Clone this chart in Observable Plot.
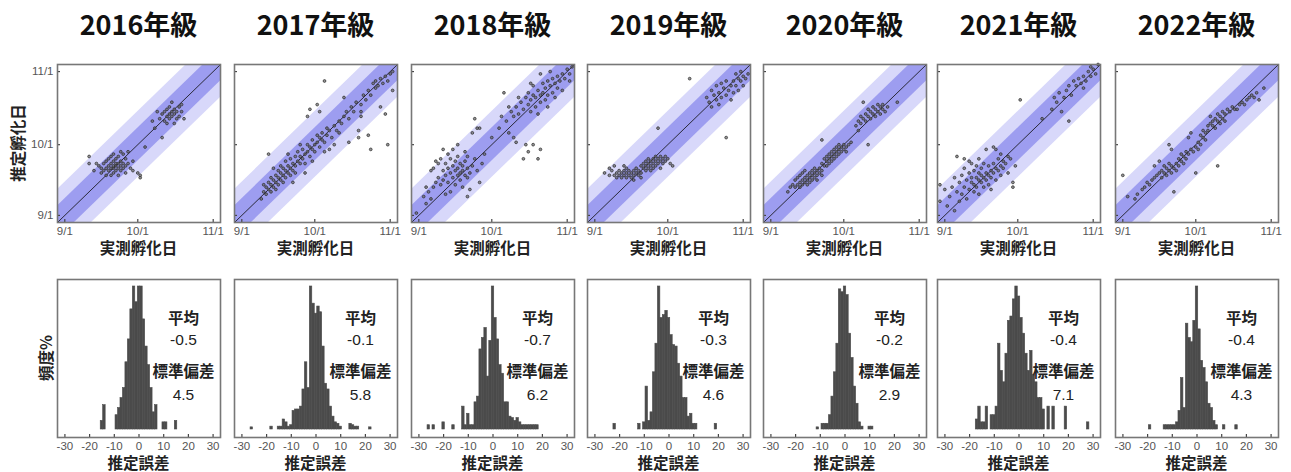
<!DOCTYPE html>
<html><head><meta charset="utf-8">
<script src="https://cdn.jsdelivr.net/npm/d3@7"></script>
<script src="https://cdn.jsdelivr.net/npm/@observablehq/plot@0.6"></script>
<style>
body{margin:0;background:#fff;}
#root{position:relative;width:1291px;height:472px;background:#fff;overflow:hidden;}
.abs{position:absolute;}
.title{font-family:"Noto Sans CJK JP","Liberation Sans",sans-serif;font-weight:bold;font-size:27px;color:#111;text-align:center;line-height:32px;}
.xl{font-family:"Noto Sans CJK JP",sans-serif;font-weight:bold;font-size:15.5px;color:#222;text-align:center;line-height:18px;}
.yl{font-family:"Noto Sans CJK JP",sans-serif;font-weight:bold;font-size:15.5px;color:#222;text-align:center;line-height:18px;transform:rotate(-90deg);transform-origin:center;}
</style>
</head><body>
<div id="root"></div>
<script>
// ---------- data ----------
const years = ["2016","2017","2018","2019","2020","2021","2022"];
const means = ["-0.5","-0.1","-0.7","-0.3","-0.2","-0.4","-0.4"];
const sds = ["4.5","5.8","6.2","4.6","2.9","7.1","4.3"];
const dateTicks = [0, 30, 61];            // days since 9/1
const dateTickLabels = ["9/1", "10/1", "11/1"];
const errTicks = [-30, -20, -10, 0, 10, 20, 30];
const innerBand = 7, outerBand = 14;       // days

// scatter points [measured day, estimated day] (days since 9/1)
const pts2016 = [[10,25],[10,22],[13,22],[14,21],[15,20],[15,18],[16,19],[16,22],[17,20],[17,23],[18,19],[18,21],[18,24],[19,20],[19,22],[19,25],[20,18],[20,20],[20,21],[20,23],[20,26],[21,19],[21,21],[21,22],[21,24],[22,20],[22,22],[22,25],[23,19],[23,21],[23,23],[24,20],[24,22],[24,26],[25,21],[25,18],[26,22],[27,20],[28,19],[30,18],[31,17],[31,16],[17,17],[19,17],[22,17],[25,24],[26,27],[23,27],[12,19],[28,23],
[33,29],[37,37],[39,41],[40,33],[40,43],[41,40],[41,44],[42,42],[42,45],[43,41],[43,43],[43,46],[44,42],[44,44],[45,43],[45,45],[46,41],[46,44],[47,42],[47,46],[48,44],[49,41],[38,44],[44,48],[45,39],[42,39],[48,47],[36,40]];
const pts2017 = [[8,7],[9,10],[9,13],[10,12],[10,9],[11,14],[11,11],[12,13],[12,16],[12,10],[13,15],[13,12],[14,17],[14,14],[14,11],[15,16],[15,19],[15,13],[16,15],[16,18],[16,21],[17,14],[17,17],[17,20],[18,16],[18,19],[18,23],[19,18],[19,21],[20,17],[20,20],[20,24],[21,19],[21,22],[22,21],[22,25],[22,18],[23,23],[23,27],[24,22],[24,25],[25,24],[25,28],[26,26],[26,22],[27,27],[27,30],[28,25],[28,29],[29,28],[29,32],[30,30],[30,27],[31,31],[31,34],[32,29],[32,33],[33,32],[33,35],[34,31],[35,34],[35,37],[36,36],[37,33],[38,38],[39,36],[40,40],[41,39],[42,42],[43,44],[44,41],[45,46],[46,44],[47,48],[49,47],[50,51],[51,49],[52,53],[53,51],[54,56],[55,54],[55,57],[56,55],[57,58],[58,56],[59,59],[60,57],[61,60],[62,61],[13,20],[19,26],[11,26],[24,30],[34,57],[31,47],[28,45],[27,42],[32,44],[42,50],[49,42],[48,36],[48,33],[52,34],[49,44],[60,30],[53,28],[44,31],[57,46],[59,43],[62,53],[21,14],[26,18],[29,23],[38,30],[36,28],[40,35],[34,27]];
const pts2018 = [[-1,1],[2,8],[4,10],[3,5],[5,7],[6,12],[6,20],[7,23],[8,22],[5,19],[8,16],[9,13],[10,15],[10,19],[11,17],[11,22],[12,14],[12,20],[13,18],[13,24],[14,16],[14,21],[15,19],[15,23],[15,13],[16,17],[16,20],[16,25],[17,18],[17,15],[17,22],[18,19],[18,21],[18,12],[19,17],[19,23],[20,20],[20,16],[20,8],[21,11],[21,18],[22,21],[22,35],[23,41],[24,37],[25,37],[25,14],[24,19],[23,24],[26,22],[9,24],[12,26],[14,28],[16,30],[11,9],[7,14],[27,26],[19,27],[10,28],[3,12],[13,10],[20,25],
[30,33],[33,37],[35,52],[36,40],[37,35],[39,42],[39,33],[40,31],[43,24],[45,27],[50,28],[47,30],[49,24],[44,30],[38,44],[40,46],[41,43],[42,48],[43,45],[44,50],[45,47],[45,52],[46,49],[46,44],[47,51],[47,55],[48,50],[48,46],[49,53],[50,51],[50,48],[51,56],[51,52],[52,54],[52,49],[53,57],[53,51],[54,55],[55,58],[55,52],[56,56],[57,59],[57,54],[58,57],[59,60],[60,58],[61,62],[62,60],[63,63],[49,43],[53,46],[56,50],[59,53],[62,57],[41,50],[37,46],[34,42],[46,56],[50,60],[54,61]];
const pts2019 = [[4,18],[6,17],[7,19],[8,17],[9,18],[9,16],[10,19],[10,17],[11,18],[11,16],[12,19],[12,17],[13,18],[13,20],[13,16],[14,17],[14,19],[15,18],[15,16],[16,19],[16,17],[17,18],[17,20],[18,17],[18,19],[19,18],[19,21],[20,20],[20,22],[21,19],[21,21],[21,23],[22,20],[22,22],[22,24],[23,21],[23,23],[24,22],[24,20],[24,24],[25,23],[25,21],[25,25],[26,22],[26,24],[27,23],[27,25],[28,24],[28,22],[29,23],[29,25],[30,24],[31,22],[32,21],[26,37],[6,20],[8,21],[12,21],[16,15],[19,16],[23,19],[27,20],
[39,58],[46,50],[47,48],[48,53],[49,51],[50,55],[50,49],[51,52],[52,56],[52,50],[53,54],[54,57],[54,51],[55,53],[56,55],[56,49],[57,57],[57,52],[58,55],[59,58],[59,53],[60,57],[61,59],[61,55],[62,58],[63,60],[54,33],[48,46],[51,47],[58,60],[60,61]];
const pts2020 = [[9,13],[10,12],[10,15],[11,13],[11,16],[12,14],[12,12],[12,17],[13,15],[13,13],[13,18],[14,14],[14,16],[14,19],[15,15],[15,17],[15,13],[16,16],[16,18],[16,14],[17,17],[17,15],[17,19],[18,16],[18,18],[18,20],[19,17],[19,19],[19,15],[20,18],[20,20],[21,19],[21,17],[8,12],[7,10],
[21,22],[22,21],[22,24],[23,23],[23,25],[23,21],[24,24],[24,26],[24,22],[25,25],[25,27],[25,23],[26,26],[26,24],[26,28],[27,27],[27,25],[27,29],[28,26],[28,28],[28,30],[29,27],[29,29],[30,28],[30,30],[31,29],[31,27],[32,30],[21,32],[33,31],
[35,38],[36,40],[37,39],[37,42],[38,41],[38,48],[39,43],[39,40],[40,42],[40,45],[41,44],[41,41],[42,43],[42,46],[43,45],[43,42],[44,44],[44,47],[45,46],[45,43],[46,45],[46,47],[47,44],[48,46],[40,30],[52,48],[36,36]];
const pts2021 = [[-2,13],[-2,6],[0,11],[1,4],[2,8],[3,12],[4,2],[5,25],[5,10],[6,14],[6,6],[7,9],[7,17],[8,12],[8,20],[9,15],[9,7],[10,23],[10,11],[10,18],[11,14],[11,16],[12,10],[12,19],[12,13],[13,16],[13,21],[13,12],[14,15],[14,18],[14,9],[15,17],[15,14],[15,20],[16,16],[16,12],[16,22],[17,18],[17,15],[17,28],[18,17],[18,21],[18,13],[19,19],[19,16],[20,29],[20,18],[20,22],[21,28],[21,20],[21,15],[22,19],[22,24],[23,21],[23,17],[24,23],[24,20],[25,22],[26,18],[27,24],[28,12],[28,14],[29,21],[11,22],[8,24],[4,16],[19,11],[23,26],[26,25],[14,24],
[31,49],[40,41],[44,45],[45,50],[46,48],[47,52],[48,44],[49,50],[50,53],[51,40],[51,55],[52,51],[53,57],[54,55],[55,58],[56,56],[57,59],[58,57],[59,61],[60,59],[61,62],[62,60],[63,64],[60,63],[57,54]];
const pts2022 = [[0,17],[2,8],[5,7],[6,9],[8,11],[9,12],[10,14],[11,13],[12,15],[13,21],[13,16],[14,17],[15,23],[15,18],[16,16],[16,19],[17,18],[17,21],[18,20],[18,17],[19,19],[19,22],[19,30],[20,28],[20,18],[20,21],[21,20],[21,10],[22,22],[22,19],[23,24],[23,21],[24,23],[24,26],[25,22],[25,25],[26,27],[26,24],[27,33],[27,26],[28,35],[28,28],[29,27],[30,18],[30,29],[31,28],[31,31],[32,30],[32,34],[33,33],[33,36],[34,32],[34,35],[35,38],[35,36],[36,42],[36,39],[37,38],[37,40],[38,41],[38,37],[39,21],[39,40],[39,43],[40,42],[40,39],[41,44],[41,41],[42,43],[42,40],[43,45],[44,44],[45,46],[46,45],[47,45],[48,47],[49,48],[50,47],[51,49],[52,50],[53,51],[54,50],[56,49],[58,54],[55,52]];

// histograms [error (days), relative frequency]
const hist2016 = [[-15,6],[-14,17],[-9,10],[-8,15],[-7,22],[-6,29],[-5,47],[-4,63],[-3,84],[-2,100],[-1,89],[0,100],[1,100],[2,77],[3,58],[4,45],[5,29],[6,12],[7,17],[10,5],[11,5],[15,6]];
const hist2017 = [[-26,1.5],[-18,2],[-15,2],[-14,2],[-13,7],[-12,5],[-11,2],[-10,3],[-9,13],[-8,14],[-7,14],[-6,16],[-5,28],[-4,47],[-3,29],[-2,100],[-1,88],[0,81],[1,86],[2,82],[3,58],[4,32],[5,28],[6,16],[7,9],[8,5],[9,4],[10,2],[14,4],[15,3],[16,2],[17,2],[22,1.5]];
const hist2018 = [[-26,3],[-24,3],[-20,5],[-16,3],[-12,16],[-11,3],[-10,11],[-9,3],[-8,3],[-7,19],[-6,23],[-5,56],[-4,64],[-3,71],[-2,37],[-1,62],[0,100],[1,78],[2,63],[3,45],[4,39],[5,19],[6,19],[7,9],[8,8],[9,6],[10,8],[11,5],[12,3],[13,3],[14,3],[15,3],[16,3],[17,3],[18,3]];
const hist2019 = [[-22,4],[-12,4],[-10,5],[-9,30],[-8,6],[-7,12],[-6,40],[-5,60],[-4,100],[-3,78],[-2,80],[-1,83],[0,78],[1,66],[2,59],[3,58],[4,46],[5,37],[6,22],[7,22],[8,9],[9,11],[10,4],[11,4],[19,4]];
const hist2020 = [[-11,1.5],[-9,4],[-8,4],[-7,4],[-6,10],[-5,23],[-4,40],[-3,60],[-2,98],[-1,96],[0,100],[1,94],[2,67],[3,50],[4,30],[5,18],[6,5],[7,2],[10,2],[11,2]];
const hist2021 = [[-17,7],[-16,16],[-15,5],[-14,5],[-13,16],[-11,10],[-10,10],[-9,16],[-8,60],[-7,41],[-6,33],[-5,53],[-4,76],[-3,79],[-2,91],[-1,100],[0,93],[1,78],[2,67],[3,53],[4,41],[5,55],[6,38],[7,33],[8,22],[9,22],[10,14],[12,16],[14,16],[19,16],[28,5]];
const hist2022 = [[-19,3],[-13,3],[-12,3],[-11,3],[-10,3],[-9,3],[-8,5],[-7,13],[-6,36],[-5,15],[-4,74],[-3,64],[-2,61],[-1,76],[0,100],[1,70],[2,48],[3,43],[4,33],[5,18],[6,15],[7,6],[8,3],[11,3],[16,3]];

const allPts = [pts2016, pts2017, pts2018, pts2019, pts2020, pts2021, pts2022];
const allHist = [hist2016, hist2017, hist2018, hist2019, hist2020, hist2021, hist2022];

// ---------- layout ----------
const panelLefts = [57, 234, 411, 587, 763, 937, 1115];
const PW = 163, PH = 158, TOP1 = 64, TOP2 = 279;
const ML = 40, MR = 12, MT = 4, MB = 22;
const FONT = "'Liberation Sans', Arial, sans-serif";
const root = document.getElementById("root");

function place(el, left, top, w, h) {
  const d = document.createElement("div");
  d.className = "abs";
  d.style.left = left + "px"; d.style.top = top + "px";
  d.style.width = w + "px"; d.style.height = h + "px";
  d.appendChild(el);
  root.appendChild(d);
  return d;
}
function label(text, cls, left, top, w) {
  const d = document.createElement("div");
  d.className = "abs " + cls;
  d.style.left = left + "px"; d.style.top = top + "px"; d.style.width = w + "px";
  d.textContent = text;
  root.appendChild(d);
}

function scatter(pts, showY) {
  const dom = [-3, 64];
  const tx = 3 * (dom[1] - dom[0]) / PW, ty = 3 * (dom[1] - dom[0]) / PH;
  return Plot.plot({
    width: PW + ML + MR, height: PH + MT + MB,
    marginLeft: ML, marginRight: MR, marginTop: MT, marginBottom: MB,
    style: {background: "transparent", fontFamily: FONT, fontSize: "11.5px", color: "#555"},
    x: {domain: dom, axis: null}, y: {domain: dom, axis: null},
    marks: [
      Plot.areaY(dom, {x: d => d, y1: d => d - outerBand, y2: d => d + outerBand, fill: "#d8d8fa", clip: true}),
      Plot.areaY(dom, {x: d => d, y1: d => d - innerBand, y2: d => d + innerBand, fill: "#9d9df0", clip: true}),
      Plot.line(dom.map(d => [d, d]), {stroke: "#2a2a3a", strokeWidth: 1}),
      Plot.dot(pts, {x: d => d[0], y: d => d[1], r: 1.4, stroke: "#2a2a2a", strokeWidth: 0.7, fill: "#666", fillOpacity: 0.7}),
      Plot.ruleX(dateTicks, {x: d => d, y1: dom[0], y2: dom[0] + ty, stroke: "#444", strokeWidth: 1.2}),
      Plot.ruleY(dateTicks, {y: d => d, x1: dom[0], x2: dom[0] + tx, stroke: "#444", strokeWidth: 1.2}),
      Plot.axisX(dateTicks, {tickFormat: d => dateTickLabels[dateTicks.indexOf(d)], tickSize: 0, tickPadding: 4, label: null}),
      showY ? Plot.axisY(dateTicks, {tickFormat: d => dateTickLabels[dateTicks.indexOf(d)], tickSize: 0, tickPadding: 4, label: null}) : null,
      Plot.frame({stroke: "#777", strokeWidth: 1.6})
    ]
  });
}

function histo(bins, mean, sd) {
  const M = d3.max(bins, d => d[1]);
  const ydom = [-M * 8 / 143, M * (1 + 7 / 143)];
  const ty = 3 * (ydom[1] - ydom[0]) / PH;
  const statX = 18;
  const stat = (t, dy, bold) => Plot.text([t], {x: statX, frameAnchor: "top", dy, text: d => d,
    fontSize: 15.5, fill: "#222", fontWeight: bold ? "bold" : "normal",
    fontFamily: bold ? "'Noto Sans CJK JP', sans-serif" : FONT});
  return Plot.plot({
    width: PW + ML + MR, height: PH + MT + MB,
    marginLeft: ML, marginRight: MR, marginTop: MT, marginBottom: MB,
    style: {background: "transparent", fontFamily: FONT, fontSize: "11.5px", color: "#555"},
    x: {domain: [-33, 33], axis: null}, y: {domain: ydom, axis: null},
    marks: [
      Plot.rect(bins, {x1: d => d[0] - 0.5, x2: d => d[0] + 0.5, y1: 0, y2: d => d[1],
        fill: "#4b4b4b", stroke: "#4b4b4b", strokeWidth: 0.6}),
      Plot.ruleX(errTicks, {x: d => d, y1: ydom[0], y2: ydom[0] + ty, stroke: "#444", strokeWidth: 1.2}),
      Plot.axisX(errTicks, {tickFormat: d => String(d), tickSize: 0, tickPadding: 4, label: null}),
      stat("平均", 33, true),
      stat(mean, 54, false),
      stat("標準偏差", 86, true),
      stat(sd, 109, false),
      Plot.frame({stroke: "#777", strokeWidth: 1.6})
    ]
  });
}

years.forEach((yr, i) => {
  const L = panelLefts[i];
  label(yr + "年級", "title", L - 20, 8, PW + 40);
  place(scatter(allPts[i], i === 0), L - ML, TOP1 - MT, PW + ML + MR, PH + MT + MB);
  label("実測孵化日", "xl", L, 238, PW);
  place(histo(allHist[i], means[i], sds[i]), L - ML, TOP2 - MT, PW + ML + MR, PH + MT + MB);
  label("推定誤差", "xl", L, 453, PW);
});
// rotated y labels
label("推定孵化日", "yl", 17 - 60, 143 - 9, 120);
label("頻度%", "yl", 45 - 60, 358 - 9, 120);
</script>
</body></html>
